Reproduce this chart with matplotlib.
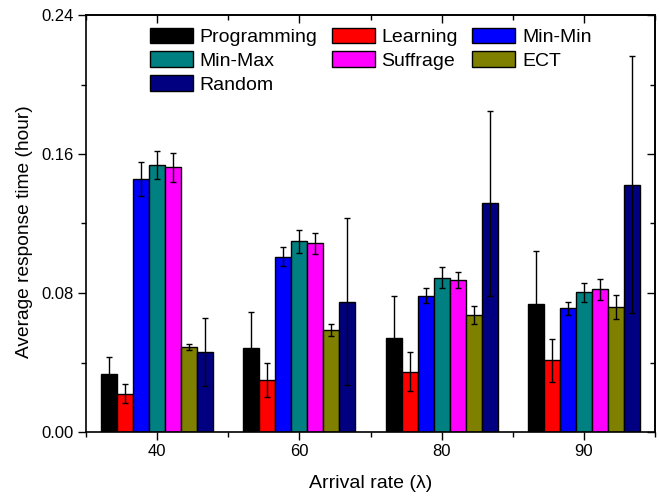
import numpy as np
import matplotlib
matplotlib.use("Agg")
import matplotlib.pyplot as plt
from matplotlib.ticker import MultipleLocator, FixedLocator

plt.rcParams['font.family'] = ['Liberation Sans', 'DejaVu Sans']

categories = ["40", "60", "80", "90"]
series = ["Programming", "Learning", "Min-Min", "Min-Max", "Suffrage", "ECT", "Random"]
colors = ["#000000", "#FF0000", "#0000FF", "#008080", "#FF00FF", "#808000", "#000080"]

programming = [0.0332, 0.0482, 0.0543, 0.0735]
learning    = [0.0221, 0.0301, 0.0347, 0.0413]
min_min     = [0.1458, 0.1009, 0.0785, 0.0712]
min_max     = [0.1538, 0.1097, 0.0888, 0.0804]
suffrage    = [0.1523, 0.1086, 0.0875, 0.0821]
ect         = [0.0491, 0.0587, 0.0675, 0.0718]
random_     = [0.0459, 0.0750, 0.1316, 0.1423]

programming_err = [0.0101, 0.0209, 0.0242, 0.0308]
learning_err    = [0.0056, 0.0099, 0.0112, 0.0124]
min_min_err     = [0.0097, 0.0053, 0.0043, 0.0039]
min_max_err     = [0.0080, 0.0067, 0.0060, 0.0054]
suffrage_err    = [0.0082, 0.0062, 0.0046, 0.0060]
ect_err         = [0.0018, 0.0037, 0.0053, 0.0068]
random_err      = [0.0195, 0.0480, 0.0534, 0.0740]

values = [programming, learning, min_min, min_max, suffrage, ect, random_]
errors = [programming_err, learning_err, min_min_err, min_max_err, suffrage_err, ect_err, random_err]

fig = plt.figure(figsize=(6.59, 4.96), dpi=100)
ax = fig.add_axes([86/659, 64/496, 569/659, 417/496])

x = np.arange(len(categories))
w = 0.1125
n = len(series)
handles = []
for i, (name, vals, errs, c) in enumerate(zip(series, values, errors, colors)):
    pos = x + (i - (n - 1) / 2) * w
    h = ax.bar(pos, vals, width=w, color=c, edgecolor='black', linewidth=1.0, label=name, zorder=2)
    handles.append(h)
    ax.errorbar(pos, vals, yerr=errs, fmt='none', ecolor='black', elinewidth=1.0,
                capsize=2.5, capthick=1.0, zorder=3)

ax.set_xlim(-0.5, 3.5)
ax.set_ylim(0, 0.24)
ax.set_xticks(x)
ax.set_xticklabels(categories)
ax.xaxis.set_minor_locator(FixedLocator(np.arange(-0.5, 3.51, 0.5)))
ax.set_yticks([0, 0.08, 0.16, 0.24])
ax.set_yticklabels(["0.00", "0.08", "0.16", "0.24"])
ax.yaxis.set_minor_locator(MultipleLocator(0.04))

ax.tick_params(axis='both', which='major', direction='out', length=6, width=1.0,
               labelsize=12, pad=3)
ax.tick_params(axis='both', which='minor', direction='out', length=3.5, width=1.0)

# mirrored inward ticks on top and right
axt = ax.secondary_xaxis('top')
axt.set_xticks(x)
axt.xaxis.set_minor_locator(FixedLocator(np.arange(-0.5, 3.51, 0.5)))
axt.tick_params(axis='x', which='major', direction='in', length=6, width=1.0, labeltop=False)
axt.tick_params(axis='x', which='minor', direction='in', length=3.5, width=1.0)
axt.set_xticklabels([])
axr = ax.secondary_yaxis('right')
axr.set_yticks([0, 0.08, 0.16, 0.24])
axr.yaxis.set_minor_locator(MultipleLocator(0.04))
axr.tick_params(axis='y', which='major', direction='in', length=6, width=1.0, labelright=False)
axr.tick_params(axis='y', which='minor', direction='in', length=3.5, width=1.0)
axr.set_yticklabels([])

for s in ax.spines.values():
    s.set_linewidth(1.2)
axt.spines['top'].set_linewidth(1.2)
axr.spines['right'].set_linewidth(1.2)

ax.set_xlabel("Arrival rate (λ)", fontsize=14, labelpad=11)
ax.set_ylabel("Average response time (hour)", fontsize=13.8)
ax.yaxis.set_label_coords(-0.093, 0.48)

# row-wise legend order (matplotlib fills columns first)
order = [0, 3, 6, 1, 4, 2, 5]
ax.legend([handles[k] for k in order], [series[k] for k in order],
          loc='upper left', bbox_to_anchor=(0.112, 0.970), ncol=3, frameon=False,
          fontsize=14, handlelength=2.2, handleheight=0.88, handletextpad=0.35,
          columnspacing=0.75, labelspacing=0.27, borderpad=0, borderaxespad=0)

fig.savefig("out.png", dpi=100)
